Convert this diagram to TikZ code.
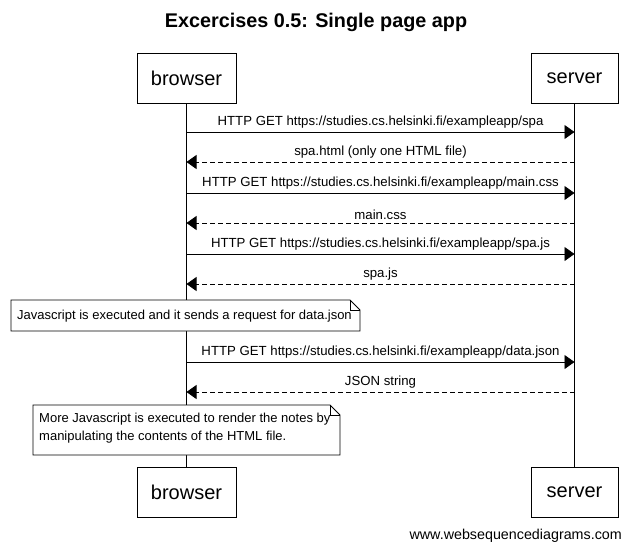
\documentclass[tikz,border=0pt]{standalone}
\usepackage{fontspec}
\setmainfont{Liberation Sans}
\usetikzlibrary{arrows.meta}
\begin{document}
\begin{tikzpicture}[x=1pt,y=-1pt,
  actor/.style={draw,line width=0.8pt,minimum width=99pt,minimum height=50pt,font=\fontsize{20}{24}\selectfont,inner sep=0pt},
  msg/.style={line width=0.8pt,-{Triangle[length=10pt,width=14pt]}},
  reply/.style={msg,dashed,dash pattern=on 5pt off 3pt},
  lbl/.style={font=\fontsize{13.2}{15}\selectfont,inner sep=0pt,anchor=base},
  life/.style={line width=0.8pt},
  notebox/.style={draw,line width=0.8pt,fill=white}]
\useasboundingbox (0,0) rectangle (632,550);
\node[font=\bfseries\fontsize{19.8}{24}\selectfont] (title) at (316,22) {Excercises 0.5: Single page app};
\node[actor] (bt) at (186.5,78) {browser};
\node[actor,minimum width=87pt] (st) at (574.5,78) {server};
\node[actor] (bb) at (186.5,492) {browser};
\node[actor,minimum width=87pt] (sb) at (574.5,492) {server};
\draw[life] (bt.south) -- (bb.north);
\draw[life] (st.south) -- (sb.north);
% messages
\foreach \y/\n in {132/a,162/b,193/c,223/d,254/e,284/f,362/g,392/h}{
  \coordinate (b\n) at (186.5,\y);
  \coordinate (s\n) at (574.5,\y);
}
\draw[msg] (ba) -- (sa) node[lbl,midway,above=3pt] {HTTP GET https://studies.cs.helsinki.fi/exampleapp/spa};
\draw[reply] (sb) -- (bb) node[lbl,midway,above=3pt] {spa.html (only one HTML file)};
\draw[msg] (bc) -- (sc) node[lbl,midway,above=3pt] {HTTP GET https://studies.cs.helsinki.fi/exampleapp/main.css};
\draw[reply] (sd) -- (bd) node[lbl,midway,above=3pt] {main.css};
\draw[msg] (be) -- (se) node[lbl,midway,above=3pt] {HTTP GET https://studies.cs.helsinki.fi/exampleapp/spa.js};
\draw[reply] (sf) -- (bf) node[lbl,midway,above=3pt] {spa.js};
\draw[msg] (bg) -- (sg) node[lbl,midway,above=3pt] {HTTP GET https://studies.cs.helsinki.fi/exampleapp/data.json};
\draw[reply] (sh) -- (bh) node[lbl,midway,above=3pt] {JSON string};
% note 1
\draw[notebox] (11,300) -- (350,300) -- (360,310) -- (360,331) -- (11,331) -- cycle;
\draw[line width=0.8pt] (350,300) -- (350,310) -- (360,310);
\node[font=\fontsize{13}{15}\selectfont,anchor=west,inner sep=0pt] (n1) at (17,316) {Javascript is executed and it sends a request for data.json};
% note 2
\draw[notebox] (33,405) -- (330,405) -- (340,415) -- (340,455) -- (33,455) -- cycle;
\draw[line width=0.8pt] (330,405) -- (330,415) -- (340,415);
\node[font=\fontsize{13}{18}\selectfont,anchor=north west,inner sep=0pt,align=left] (n2) at (39,413) {More Javascript is executed to render the notes by\\manipulating the contents of the HTML file.};
\node[font=\fontsize{14.3}{16}\selectfont,anchor=east,inner sep=0pt] (foot) at (622,536) {www.websequencediagrams.com};
\end{tikzpicture}
\end{document}
